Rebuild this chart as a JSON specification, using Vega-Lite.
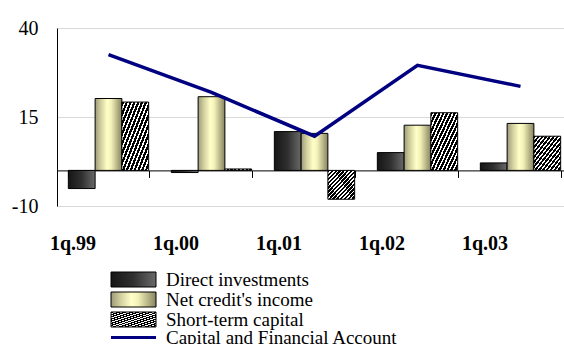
{
  "$schema": "https://vega.github.io/schema/vega-lite/v6.json",
  "width": 507,
  "height": 178,
  "autosize": "none",
  "padding": {"left": 57, "top": 28, "right": 0, "bottom": 138},
  "background": "white",
  "config": {"view": {"stroke": null}},
  "data": {
    "values": [
      {"q": "1q.99", "series": "Direct investments", "value": -5.1},
      {"q": "1q.99", "series": "Net credit's income", "value": 20.2},
      {"q": "1q.99", "series": "Short-term capital", "value": 19.2},
      {"q": "1q.99", "series": "Capital and Financial Account", "value": 32.5},
      {"q": "1q.00", "series": "Direct investments", "value": -0.6},
      {"q": "1q.00", "series": "Net credit's income", "value": 20.7},
      {"q": "1q.00", "series": "Short-term capital", "value": 0.4},
      {"q": "1q.00", "series": "Capital and Financial Account", "value": 21.9},
      {"q": "1q.01", "series": "Direct investments", "value": 10.9},
      {"q": "1q.01", "series": "Net credit's income", "value": 10.4},
      {"q": "1q.01", "series": "Short-term capital", "value": -8.1},
      {"q": "1q.01", "series": "Capital and Financial Account", "value": 9.6},
      {"q": "1q.02", "series": "Direct investments", "value": 5.0},
      {"q": "1q.02", "series": "Net credit's income", "value": 12.7},
      {"q": "1q.02", "series": "Short-term capital", "value": 16.2},
      {"q": "1q.02", "series": "Capital and Financial Account", "value": 29.5},
      {"q": "1q.03", "series": "Direct investments", "value": 2.1},
      {"q": "1q.03", "series": "Net credit's income", "value": 13.2},
      {"q": "1q.03", "series": "Short-term capital", "value": 9.6},
      {"q": "1q.03", "series": "Capital and Financial Account", "value": 23.6}
    ]
  },
  "layer": [
    {
      "transform": [{"filter": "datum.series !== 'Capital and Financial Account'"}],
      "mark": {"type": "bar", "stroke": "black", "strokeWidth": 1},
      "encoding": {
        "x": {
          "field": "q", "type": "nominal",
          "scale": {"domain": ["1q.99", "1q.00", "1q.01", "1q.02", "1q.03"], "range": [0, 515], "paddingInner": 0.22, "paddingOuter": 0.11},
          "axis": {
            "title": null, "grid": false, "labelAngle": 0,
            "offset": {"expr": "scale('y', 0) - height"},
            "tickBand": "extent", "ticks": true, "tickSize": 7, "tickColor": "black", "tickWidth": 1,
            "domain": true, "domainColor": "black", "domainWidth": 1,
            "labelFont": "Liberation Serif", "labelFontWeight": "bold", "labelFontSize": 20, "labelColor": "black",
            "labelPadding": 56, "labelOffset": -36
          }
        },
        "xOffset": {
          "field": "series", "type": "nominal",
          "scale": {"domain": ["Direct investments", "Net credit's income", "Short-term capital"], "paddingInner": 0, "paddingOuter": 0}
        },
        "y": {
          "field": "value", "type": "quantitative",
          "scale": {"domain": [-10, 40], "nice": false, "zero": false},
          "axis": {
            "title": null, "values": [-10, 15, 40], "grid": true, "gridColor": "#d9d9d9", "gridWidth": 1,
            "ticks": false, "domain": true, "domainColor": "black", "domainWidth": 1,
            "labelExpr": "datum.value < 0 ? '-' + abs(datum.value) : datum.label",
            "labelFont": "Liberation Serif", "labelFontSize": 20, "labelColor": "black", "labelPadding": 19
          }
        },
        "fill": {
          "field": "series", "type": "nominal",
          "scale": {
            "domain": ["Direct investments", "Net credit's income", "Short-term capital"],
            "range": [
              {"expr": "{gradient:'linear',x1:0,y1:0,x2:1,y2:0,stops:[{offset:0,color:'#151515'},{offset:0.5,color:'#303030'},{offset:1,color:'#6a6a6a'}]}"},
              {"expr": "{gradient:'linear',x1:0,y1:0,x2:1,y2:0,stops:[{offset:0,color:'#9c9a7a'},{offset:0.2,color:'#cfcd9c'},{offset:0.45,color:'#ffffc8'},{offset:0.6,color:'#f4f2b8'},{offset:1,color:'#86845f'}]}"},
              {"expr": "{gradient:'linear',x1:0,y1:0,x2:1,y2:1,stops:[{offset:0,color:'black'},{offset:0.0429,color:'black'},{offset:0.0429,color:'white'},{offset:0.0714,color:'white'},{offset:0.0714,color:'black'},{offset:0.1143,color:'black'},{offset:0.1143,color:'white'},{offset:0.1429,color:'white'},{offset:0.1429,color:'black'},{offset:0.1857,color:'black'},{offset:0.1857,color:'white'},{offset:0.2143,color:'white'},{offset:0.2143,color:'black'},{offset:0.2571,color:'black'},{offset:0.2571,color:'white'},{offset:0.2857,color:'white'},{offset:0.2857,color:'black'},{offset:0.3286,color:'black'},{offset:0.3286,color:'white'},{offset:0.3571,color:'white'},{offset:0.3571,color:'black'},{offset:0.4,color:'black'},{offset:0.4,color:'white'},{offset:0.4286,color:'white'},{offset:0.4286,color:'black'},{offset:0.4714,color:'black'},{offset:0.4714,color:'white'},{offset:0.5,color:'white'},{offset:0.5,color:'black'},{offset:0.5429,color:'black'},{offset:0.5429,color:'white'},{offset:0.5714,color:'white'},{offset:0.5714,color:'black'},{offset:0.6143,color:'black'},{offset:0.6143,color:'white'},{offset:0.6429,color:'white'},{offset:0.6429,color:'black'},{offset:0.6857,color:'black'},{offset:0.6857,color:'white'},{offset:0.7143,color:'white'},{offset:0.7143,color:'black'},{offset:0.7571,color:'black'},{offset:0.7571,color:'white'},{offset:0.7857,color:'white'},{offset:0.7857,color:'black'},{offset:0.8286,color:'black'},{offset:0.8286,color:'white'},{offset:0.8571,color:'white'},{offset:0.8571,color:'black'},{offset:0.9,color:'black'},{offset:0.9,color:'white'},{offset:0.9286,color:'white'},{offset:0.9286,color:'black'},{offset:0.9714,color:'black'},{offset:0.9714,color:'white'},{offset:1,color:'white'}]}"}
            ]
          },
          "legend": {
            "title": null, "orient": "none", "legendX": 67, "legendY": 242, "padding": 0, "rowPadding": 0,
            "symbolType": "M-4.5,-1.5H4.5V1.5H-4.5Z", "symbolSize": 100,
            "symbolStrokeColor": "black", "symbolStrokeWidth": 1, "symbolOpacity": 1,
            "labelFont": "Liberation Serif", "labelFontSize": 19, "labelColor": "black",
            "labelOffset": 23, "labelLimit": 400
          }
        }
      }
    },
    {
      "transform": [{"filter": "datum.series === 'Capital and Financial Account'"}],
      "mark": {"type": "line", "strokeWidth": 3.5},
      "encoding": {
        "x": {"field": "q", "type": "nominal"},
        "y": {"field": "value", "type": "quantitative"},
        "stroke": {
          "field": "series", "type": "nominal",
          "scale": {"domain": ["Capital and Financial Account"], "range": ["#000080"]},
          "legend": {
            "title": null, "orient": "none", "legendX": 67, "legendY": 300, "padding": 0,
            "symbolType": "M-4.5,0H4.5", "symbolSize": 100, "symbolStrokeWidth": 3,
            "labelFont": "Liberation Serif", "labelFontSize": 19, "labelColor": "black",
            "labelOffset": 23, "labelLimit": 400
          }
        }
      }
    }
  ]
}
